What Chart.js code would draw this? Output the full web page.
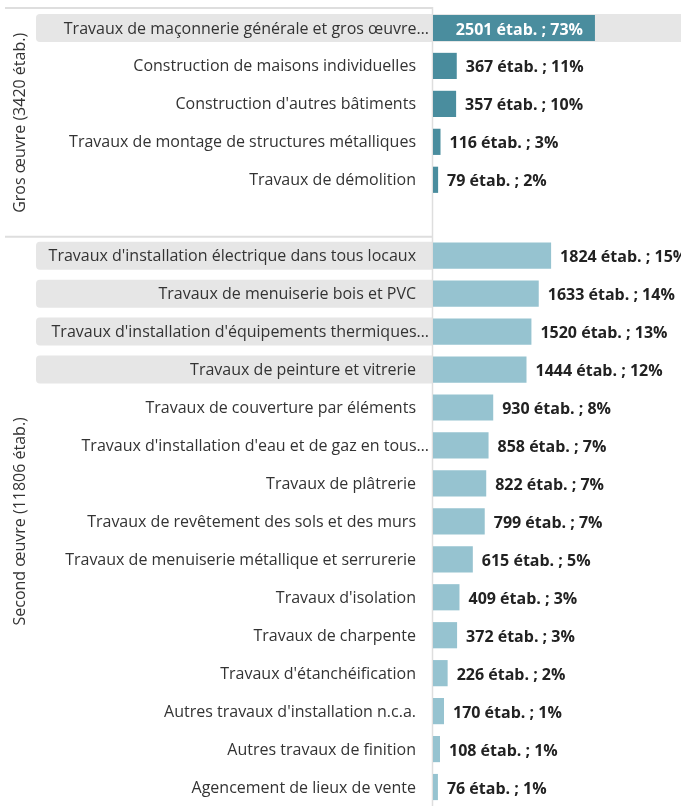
<!DOCTYPE html>
<html>
<head>
<meta charset="utf-8">
<script src="https://cdn.jsdelivr.net/npm/chart.js@4"></script>
<style>
  html, body { margin: 0; padding: 0; background: #fff; }
  #wrap { width: 681px; height: 806px; position: relative; }
</style>
</head>
<body>
<div id="wrap"><canvas id="chart"></canvas></div>
<script>
let grosTitle = "Gros œuvre";
let grosLabels = [
  "Travaux de maçonnerie générale et gros œuvre…",
  "Construction de maisons individuelles",
  "Construction d'autres bâtiments",
  "Travaux de montage de structures métalliques",
  "Travaux de démolition"
];
let grosValues = [2501, 367, 357, 116, 79];

let secondTitle = "Second œuvre";
let secondLabels = [
  "Travaux d'installation électrique dans tous locaux",
  "Travaux de menuiserie bois et PVC",
  "Travaux d'installation d'équipements thermiques…",
  "Travaux de peinture et vitrerie",
  "Travaux de couverture par éléments",
  "Travaux d'installation d'eau et de gaz en tous…",
  "Travaux de plâtrerie",
  "Travaux de revêtement des sols et des murs",
  "Travaux de menuiserie métallique et serrurerie",
  "Travaux d'isolation",
  "Travaux de charpente",
  "Travaux d'étanchéification",
  "Autres travaux d'installation n.c.a.",
  "Autres travaux de finition",
  "Agencement de lieux de vente"
];
let secondValues = [1824, 1633, 1520, 1444, 930, 858, 822, 799, 615, 409, 372, 226, 170, 108, 76];

let sum = arr => arr.reduce((a, b) => a + b, 0);
let grosTotal = sum(grosValues);
let secondTotal = sum(secondValues);

// one empty slot closes the first group
let labels = grosLabels.concat([""], secondLabels);
let values = grosValues.concat([null], secondValues);
let totals = grosValues.map(() => grosTotal).concat([null], secondValues.map(() => secondTotal));
let colors = grosValues.map(() => "#4a8d9e").concat(["#fff"], secondValues.map(() => "#96c3d0"));

const DARK = "#333";
const FONT = "'Open Sans', sans-serif";

function roundRect(ctx, x, y, w, h, r) {
  ctx.beginPath();
  ctx.moveTo(x + r, y);
  ctx.lineTo(x + w, y);
  ctx.lineTo(x + w, y + h);
  ctx.lineTo(x + r, y + h);
  ctx.arcTo(x, y + h, x, y + h - r, r);
  ctx.lineTo(x, y + r);
  ctx.arcTo(x, y, x + r, y, r);
  ctx.closePath();
}

let decor = {
  id: "decor",
  beforeDatasetsDraw(chart) {
    let ctx = chart.ctx;
    let y = chart.scales.y;
    let area = chart.chartArea;
    ctx.save();

    // grey boxes behind the biggest rows
    values.forEach((v, i) => {
      if (v == null || v < 1000) return;
      let cy = y.getPixelForValue(i);
      let right = v > 2000 ? chart.width : area.left;
      ctx.fillStyle = "#e6e6e6";
      roundRect(ctx, 36, cy - 14, right - 36, 28, 4);
      ctx.fill();
    });

    // group frame lines
    ctx.strokeStyle = "#dedede";
    ctx.lineWidth = 2;
    let sep = (y.getPixelForValue(grosLabels.length) + y.getPixelForValue(grosLabels.length + 1)) / 2;
    ctx.beginPath();
    ctx.moveTo(5, area.top - 1);
    ctx.lineTo(area.left, area.top - 1);
    ctx.moveTo(5, sep);
    ctx.lineTo(area.left, sep);
    ctx.stroke();
    ctx.lineWidth = 1.5;
    ctx.beginPath();
    ctx.moveTo(area.left - 0.5, area.top - 2);
    ctx.lineTo(area.left - 0.5, area.bottom);
    ctx.stroke();
    ctx.restore();
  },
  afterDatasetsDraw(chart) {
    let ctx = chart.ctx;
    let x = chart.scales.x;
    let y = chart.scales.y;
    let area = chart.chartArea;
    ctx.save();
    ctx.textBaseline = "middle";

    // category labels
    ctx.font = "16px " + FONT;
    ctx.fillStyle = DARK;
    ctx.textAlign = "right";
    labels.forEach((l, i) => {
      if (!l) return;
      let cy = y.getPixelForValue(i) + 1;
      let tx = l.endsWith("…") ? 429 : 416;
      ctx.fillText(l, tx, cy);
    });

    // value labels
    ctx.font = "bold 16px " + FONT;
    values.forEach((v, i) => {
      if (v == null) return;
      let cy = y.getPixelForValue(i) + 2;
      let end = x.getPixelForValue(v);
      let txt = v + " étab. ; " + Math.round(v / totals[i] * 100) + "%";
      if (v > 2000) {
        ctx.fillStyle = "#fff";
        ctx.textAlign = "right";
        ctx.fillText(txt, end - 12, cy);
      } else {
        ctx.fillStyle = "#222";
        ctx.textAlign = "left";
        ctx.fillText(txt, end + 9, cy);
      }
    });

    // rotated group titles
    ctx.font = "16px " + FONT;
    ctx.fillStyle = DARK;
    ctx.textAlign = "center";
    let sep = (y.getPixelForValue(grosLabels.length) + y.getPixelForValue(grosLabels.length + 1)) / 2;
    let groups = [
      [grosTitle + " (" + grosTotal + " étab.)", (area.top + sep) / 2],
      [secondTitle + " (" + secondTotal + " étab.)", (sep + area.bottom) / 2]
    ];
    groups.forEach(g => {
      ctx.save();
      ctx.translate(20, g[1]);
      ctx.rotate(-Math.PI / 2);
      ctx.fillText(g[0], 0, 0);
      ctx.restore();
    });
    ctx.restore();
  }
};

new Chart(document.getElementById("chart"), {
  type: "bar",
  data: {
    labels: labels,
    datasets: [{
      data: values,
      backgroundColor: colors,
      borderWidth: 0,
      categoryPercentage: 1,
      barPercentage: 0.69
    }]
  },
  options: {
    indexAxis: "y",
    responsive: true,
    maintainAspectRatio: false,
    animation: false,
    layout: { padding: { left: 433, top: 9, right: 0, bottom: 0 } },
    plugins: { legend: { display: false }, tooltip: { enabled: false } },
    scales: {
      x: { display: false, min: 0, max: 3830 },
      y: { display: false }
    }
  },
  plugins: [decor]
});
</script>
</body>
</html>
